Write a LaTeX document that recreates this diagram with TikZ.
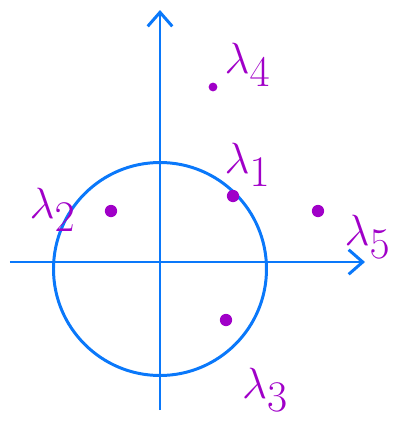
\documentclass[tikz,border=0pt]{standalone}
\usepackage{amsmath}
\usepackage{xcolor}
\usepackage{tikz}
\usetikzlibrary{arrows.meta}
\definecolor{PenBlue}{RGB}{10,120,250}
\definecolor{PenPurple}{RGB}{160,0,200}

\begin{document}
\begin{tikzpicture}[
	axis/.style={line width=1.7pt, PenBlue, -{Straight Barb[length=8pt,width=14pt,line width=1.7pt]}},
	eig/.style={circle, fill=PenPurple, inner sep=0pt, minimum size=7pt},
	eiglabel/.style={PenPurple, font=\fontsize{34}{34}\selectfont}
	]
	\useasboundingbox (-3.2,-3.24) rectangle (4.74,5.24);
	\draw[axis] (-3.0,0) -- (4.1,0);
	\draw[axis] (0,-2.96) -- (0,5.04);
	\draw[line width=1.7pt, PenBlue] (0,-0.14) circle (2.13);
	% eigenvalues
	\node[eig] (l1) at (1.46,1.32) {};
	\node[eig] (l2) at (-0.98,1.02) {};
	\node[eig] (l3) at (1.32,-1.16) {};
	\node[eig, minimum size=5pt] (l4) at (1.06,3.5) {};
	\node[eig] (l5) at (3.16,1.02) {};
	\node[eiglabel] (t1) at (1.75,1.95) {$\lambda_1$};
	\node[eiglabel] (t2) at (-2.15,1.05) {$\lambda_2$};
	\node[eiglabel] (t3) at (2.1,-2.55) {$\lambda_3$};
	\node[eiglabel] (t4) at (1.75,3.95) {$\lambda_4$};
	\node[eiglabel] (t5) at (4.15,0.5) {$\lambda_5$};
\end{tikzpicture}
\end{document}
